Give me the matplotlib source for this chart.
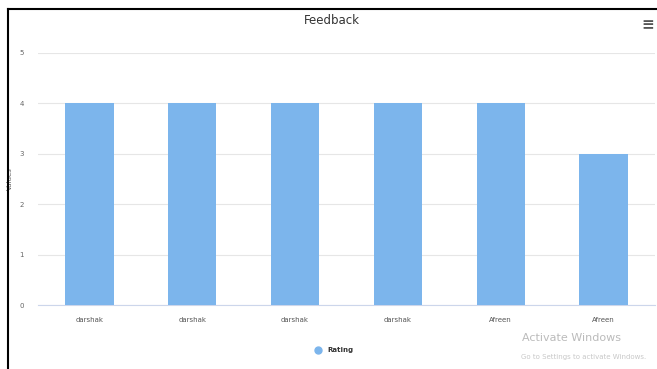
import matplotlib.pyplot as plt
from matplotlib.lines import Line2D

# === DATA ===
categories = ["darshak", "darshak", "darshak", "darshak", "Afreen", "Afreen"]
rating = [4, 4, 4, 4, 4, 3]
y_ticks = [0, 1, 2, 3, 4, 5]

W, H = 657, 369
fig = plt.figure(figsize=(W / 100, H / 100), dpi=100)
fig.patch.set_facecolor("white")

ax = fig.add_axes([38 / W, 1 - 305 / H, (655 - 38) / W, (305 - 53) / H])
x = list(range(len(categories)))
ax.bar(x, rating, width=0.47, color="#7cb5ec", zorder=3)

ax.set_xlim(-0.5, len(categories) - 0.5)
ax.set_ylim(0, 5)
ax.set_yticks(y_ticks)
ax.set_yticklabels([str(v) for v in y_ticks], fontsize=5, color="#666666")
ax.set_xticks(x)
ax.set_xticklabels(categories, fontsize=5, color="#555555")
ax.tick_params(axis="both", length=0)
ax.tick_params(axis="y", pad=10)
ax.tick_params(axis="x", pad=9)
ax.grid(axis="y", color="#e6e6e6", linewidth=0.8, zorder=0)
for s in ["top", "right", "left"]:
    ax.spines[s].set_visible(False)
ax.spines["bottom"].set_color("#ccd6eb")
ax.spines["bottom"].set_linewidth(0.8)
ax.set_ylabel("Values", fontsize=5, color="#666666")
ax.yaxis.set_label_coords((13 - 38) / (655 - 38), 0.5)

# title and menu icon
fig.text(332 / W, 1 - 20 / H, "Feedback", ha="center", va="center", fontsize=8.5, color="#333333")
fig.text(648 / W, 1 - 25 / H, "\u2261", ha="center", va="center", fontsize=11, color="#555555", fontweight="bold")

# legend
fig.add_artist(Line2D([318 / W], [1 - 350 / H], marker="o", markersize=5, color="#7cb5ec", linestyle="none"))
fig.text(327 / W, 1 - 350 / H, "Rating", ha="left", va="center", fontsize=5, color="#333333", fontweight="bold")

# watermark
fig.text(522 / W, 1 - 338 / H, "Activate Windows", ha="left", va="center", fontsize=8, color="#bbbbbb")
fig.text(521 / W, 1 - 357 / H, "Go to Settings to activate Windows.", ha="left", va="center", fontsize=5, color="#c8c8c8")

# screenshot frame
fig.add_artist(Line2D([8 / W, 8 / W], [0, 1 - 9 / H], color="black", linewidth=1.5))
fig.add_artist(Line2D([8 / W, 1], [1 - 9 / H, 1 - 9 / H], color="black", linewidth=1.5))

fig.savefig("out.png", dpi=100)
